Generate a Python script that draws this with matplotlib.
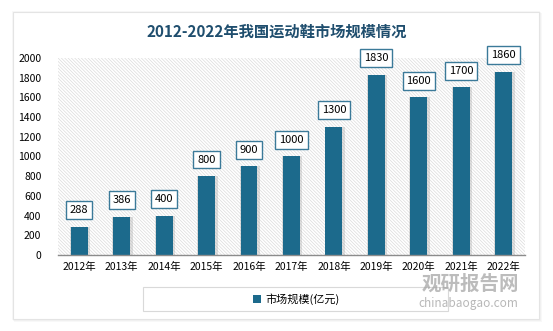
import matplotlib
matplotlib.use("Agg")
import matplotlib.pyplot as plt
from matplotlib.patches import Rectangle, FancyBboxPatch

plt.rcParams['font.family'] = ['Noto Sans CJK SC', 'DejaVu Sans']
plt.rcParams['hatch.linewidth'] = 0.5
plt.rcParams['hatch.color'] = '#dcdcdc'

# market size of sports shoes in China, 100 million yuan
years = ['2012年', '2013年', '2014年', '2015年', '2016年', '2017年',
         '2018年', '2019年', '2020年', '2021年', '2022年']
market_size = [288, 386, 400, 800, 900, 1000, 1300, 1830, 1600, 1700, 1860]
y_ticks = list(range(0, 2001, 200))

bar_color = '#1c6a8c'
title_color = '#1f4e6e'

fig = plt.figure(figsize=(5.53, 3.31), dpi=100)
fig.patch.set_facecolor('white')

# card with a soft shadow
for i, a in enumerate([0.05, 0.05, 0.06]):
    fig.patches.append(FancyBboxPatch((0.022 + 0.002 * i, 0.033 - 0.003 * i), 0.955, 0.935,
                                      boxstyle='square,pad=0', transform=fig.transFigure,
                                      facecolor='#888888', edgecolor='none', alpha=a, zorder=0))
fig.patches.append(Rectangle((0.024, 0.035), 0.951, 0.93, transform=fig.transFigure,
                             facecolor='white', edgecolor='#e4e4e4', lw=0.8, zorder=1))

ax = fig.add_axes([0.105, 0.2296, 0.844, 0.5954])
ax.set_facecolor('none')
ax.set_zorder(2)

x = list(range(len(years)))
ax.set_xlim(-0.5, len(years) - 0.5)
ax.set_ylim(0, 2000)

# finely hatched plot background
ax.add_patch(Rectangle((0, 0), 1, 1, transform=ax.transAxes, facecolor='white',
                       edgecolor='#dcdcdc', hatch='\\' * 10, lw=0, zorder=0))

# bar shadows then bars
ax.bar([v + 0.02 for v in x], market_size, width=0.48, color='#9a9a9a', alpha=0.3, zorder=1)
bars = ax.bar(x, market_size, width=0.4, color=bar_color, zorder=2)

for xi, v in zip(x, market_size):
    ax.annotate(str(v), (xi, v), xytext=(0, 12), textcoords='offset points',
                ha='center', va='center', fontsize=8, color='black', zorder=3,
                bbox=dict(boxstyle='square,pad=0.35', fc='white', ec='#3b7a99', lw=1.0))

ax.set_xticks(x)
ax.set_xticklabels(years, fontsize=7.5)
ax.set_yticks(y_ticks)
ax.set_yticklabels([str(t) for t in y_ticks], fontsize=7.5)
ax.tick_params(axis='both', length=0, pad=5)
ax.tick_params(axis='y', pad=12)
for s in ['top', 'right', 'left']:
    ax.spines[s].set_visible(False)
ax.spines['bottom'].set_color('#8c8c8c')
ax.spines['bottom'].set_linewidth(1.0)

fig.text(0.5, 0.905, '2012-2022年我国运动鞋市场规模情况', ha='center', va='center',
         fontsize=11, fontweight='bold', color=title_color)

# legend box
fig.patches.append(Rectangle((143 / 553, 1 - 311 / 331), 305 / 553, 24 / 331,
                             transform=fig.transFigure, facecolor='white',
                             edgecolor='#d9d9d9', lw=0.8, zorder=3))
leg = fig.legend([bars], ['市场规模(亿元)'], loc='center', bbox_to_anchor=(296 / 553, 1 - 299 / 331),
                 frameon=False, fontsize=8, handlelength=0.7, handleheight=0.7, handletextpad=0.4)
leg.set_zorder(4)

# watermark
fig.text(470 / 553, 1 - 284 / 331, '观研报告网', ha='center', va='center', fontsize=14,
         fontweight='bold', color='#a0a0a0', alpha=0.7, zorder=5)
fig.text(468 / 553, 1 - 304 / 331, 'chinabaogao.com', ha='center', va='center', fontsize=8.5,
         color='#a0a0a0', alpha=0.75, zorder=5)

fig.savefig('out.png', dpi=100)
